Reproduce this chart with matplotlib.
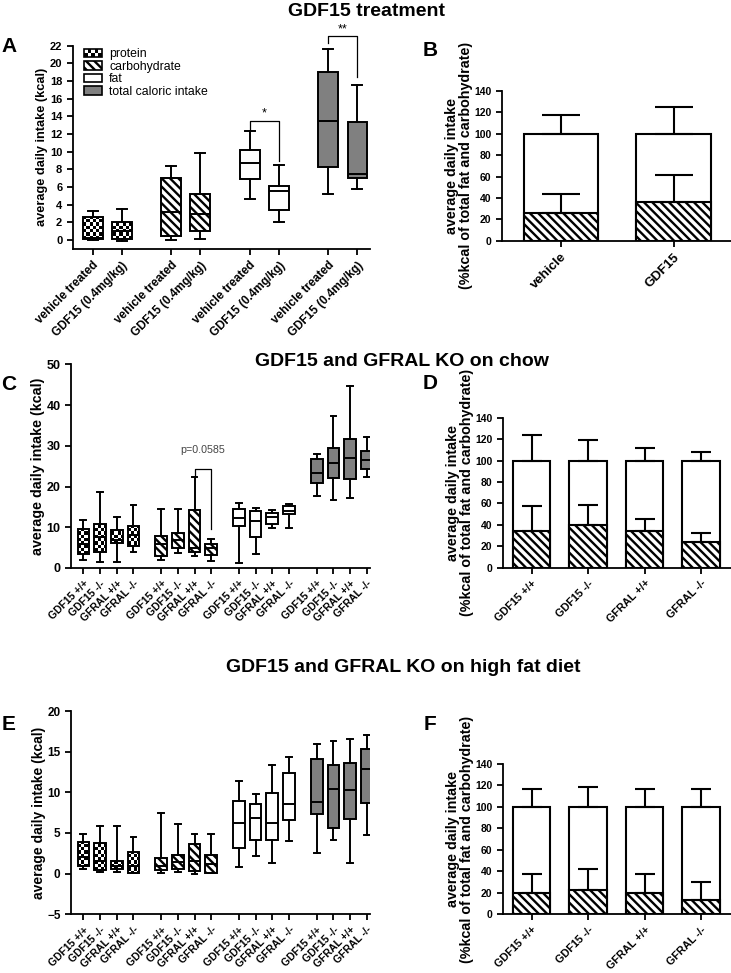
import numpy as np
import matplotlib
matplotlib.use('Agg')
import matplotlib.pyplot as plt
from matplotlib.patches import Patch, Rectangle
from matplotlib.legend_handler import HandlerBase

plt.rcParams['font.family'] = ['Liberation Sans', 'DejaVu Sans']
plt.rcParams['hatch.linewidth'] = 1.7
plt.rcParams['axes.linewidth'] = 1.3

###############################################################################
# Data

# A - GDF15 treatment, box summaries
a_labels = ['vehicle treated', 'GDF15 (0.4mg/kg)'] * 4
a_kind = ['protein'] * 2 + ['carb'] * 2 + ['fat'] * 2 + ['total'] * 2
a_whislo = [0.0, -0.1, 0.0, 0.08, 4.7, 2.0, 5.2, 5.8]
a_q1 = [0.1, 0.1, 0.45, 1.0, 6.9, 3.4, 8.25, 7.05]
a_med = [0.3, 1.0, 3.2, 2.95, 8.7, 5.6, 13.45, 7.5]
a_q3 = [2.6, 2.0, 7.05, 5.25, 10.25, 6.1, 19.0, 13.4]
a_whishi = [3.3, 3.5, 8.4, 9.85, 12.4, 8.55, 21.6, 17.5]

# B - % kcal of fat + carbohydrate
b_labels = ['vehicle', 'GDF15']
b_total = [100, 100]
b_total_sd = [17.5, 25.5]
b_carb = [25.8, 35.8]
b_carb_sd = [17.6, 25.4]

geno = ['GDF15 +/+', 'GDF15 -/-', 'GFRAL +/+', 'GFRAL -/-']
ce_labels = geno * 4
ce_kind = ['protein'] * 4 + ['carb'] * 4 + ['fat'] * 4 + ['total'] * 4

# C - chow
c_whislo = [1.9, 1.5, 1.5, 4.0, 1.9, 3.7, 2.95, 1.6, 1.2, 3.4, 9.9, 9.9, 17.7, 16.6, 17.1, 22.4]
c_q1 = [3.5, 3.85, 6.1, 5.4, 2.9, 4.8, 4.0, 3.3, 10.3, 7.5, 10.8, 13.2, 20.8, 22.0, 21.8, 24.4]
c_med = [6.0, 7.5, 6.8, 8.0, 6.0, 6.8, 5.0, 4.9, 12.3, 11.6, 12.5, 14.0, 23.3, 25.8, 27.0, 26.6]
c_q3 = [9.5, 10.8, 9.4, 10.4, 7.95, 8.7, 14.3, 5.9, 14.5, 14.0, 13.4, 15.3, 26.8, 29.4, 31.6, 28.8]
c_whishi = [11.7, 18.6, 12.5, 15.5, 14.5, 14.5, 22.3, 7.2, 16.0, 14.7, 14.2, 15.7, 28.0, 37.4, 44.6, 32.3]

# D - chow, % kcal
d_total = [100, 100, 100, 100]
d_total_sd = [23.4, 19.0, 11.9, 8.4]
d_carb = [34.5, 40.3, 33.8, 24.0]
d_carb_sd = [22.7, 18.5, 11.4, 8.3]

# E - high fat diet
e_whislo = [0.57, 0.16, 0.25, 0.12, 0.12, 0.2, 0.0, 0.04, 0.86, 2.17, 1.27, 4.06, 2.5, 4.1, 1.27, 4.75]
e_q1 = [0.9, 0.41, 0.57, 0.12, 0.45, 0.61, 0.29, 0.12, 3.11, 4.1, 4.18, 6.6, 7.34, 5.57, 6.68, 8.65]
e_med = [2.0, 1.5, 0.94, 1.0, 0.94, 1.39, 1.5, 1.15, 6.27, 6.9, 6.27, 8.57, 8.77, 10.45, 10.25, 12.87]
e_q3 = [3.93, 3.77, 1.56, 2.66, 1.93, 2.34, 3.6, 2.25, 8.98, 8.57, 9.92, 12.42, 14.14, 13.36, 13.57, 15.33]
e_whishi = [4.9, 5.8, 5.9, 4.47, 7.4, 6.07, 4.88, 4.88, 11.43, 9.75, 13.3, 14.4, 16.0, 16.3, 16.56, 17.05]

# F - high fat diet, % kcal
f_total = [100, 100, 100, 100]
f_total_sd = [17.0, 19.0, 17.0, 16.5]
f_carb = [20.0, 23.1, 20.0, 13.7]
f_carb_sd = [17.2, 19.1, 17.8, 16.6]

HATCH = '\\\\\\\\'
GREY = '#808080'


###############################################################################
# helpers
class CheckerHandler(HandlerBase):
    def create_artists(self, legend, orig_handle, xdescent, ydescent,
                       width, height, fontsize, trans):
        nx, ny = 5, 2
        w, h = width / nx, height / ny
        out = []
        for i in range(nx):
            for j in range(ny):
                fc = 'black' if (i + j) % 2 == 0 else 'white'
                out.append(Rectangle((-xdescent + i * w, -ydescent + j * h), w, h,
                                     facecolor=fc, edgecolor='none', transform=trans))
        out.append(Rectangle((-xdescent, -ydescent), width, height, facecolor='none',
                             edgecolor='black', lw=1.2, transform=trans))
        return out


def checker_fill(ax, patches, cell=3.3):
    fig = ax.figure
    pos = ax.get_position()
    nx = int(pos.width * fig.get_figwidth() * fig.dpi / cell)
    ny = int(pos.height * fig.get_figheight() * fig.dpi / cell)
    yy, xx = np.indices((ny, nx))
    board = ((xx + yy) % 2).astype(float)
    x0, x1 = ax.get_xlim()
    y0, y1 = ax.get_ylim()
    for p in patches:
        im = ax.imshow(board, cmap='gray', vmin=0, vmax=1, extent=(x0, x1, y0, y1),
                       aspect='auto', interpolation='nearest', origin='lower', zorder=1.5)
        im.set_clip_path(p)
    ax.set_xlim(x0, x1)
    ax.set_ylim(y0, y1)


def style(ax, yfs, xfs):
    for s in ['top', 'right']:
        ax.spines[s].set_visible(False)
    ax.tick_params(direction='out', length=4, width=1.3)
    ax.tick_params(axis='y', labelsize=yfs)
    for t in ax.get_yticklabels():
        t.set_fontweight('bold')
    for t in ax.get_xticklabels():
        t.set_fontweight('bold')
        t.set_fontsize(xfs)
        t.set_rotation(45)
        t.set_ha('right')
        t.set_va('top')
        t.set_rotation_mode('anchor')


def box_panel(ax, pos, width, kinds, labels, whislo, q1, med, q3, whishi, xlim, ylim):
    stats = [dict(whislo=a, q1=b, med=c, q3=d, whishi=e)
             for a, b, c, d, e in zip(whislo, q1, med, q3, whishi)]
    lp = dict(color='black', lw=1.4)
    bp = ax.bxp(stats, positions=pos, widths=width, patch_artist=True, showfliers=False,
                boxprops=dict(lw=1.4, edgecolor='black'), whiskerprops=lp,
                capprops=lp, medianprops=lp, manage_ticks=False)
    checkers = []
    for box, k in zip(bp['boxes'], kinds):
        if k == 'protein':
            box.set_facecolor('none')
            checkers.append(box)
        elif k == 'carb':
            box.set_facecolor('white')
            box.set_hatch(HATCH)
        elif k == 'fat':
            box.set_facecolor('white')
        else:
            box.set_facecolor(GREY)
    ax.set_xlim(*xlim)
    ax.set_ylim(*ylim)
    ax.set_xticks(pos)
    ax.set_xticklabels(labels)
    checker_fill(ax, checkers)
    return bp


def bar_panel(ax, labels, total, total_sd, carb, carb_sd, capsize, xlim, xfs):
    x = np.arange(len(labels))
    n = len(labels)
    ax.bar(x, total, width=0.66, facecolor='white', edgecolor='black', lw=1.5, zorder=2)
    ax.bar(x, carb, width=0.66, facecolor='white', edgecolor='black', lw=1.5,
           hatch=HATCH, zorder=2)
    ax.errorbar(x, total, yerr=[np.zeros(n), total_sd], fmt='none', ecolor='black',
                elinewidth=1.5, capsize=capsize, capthick=1.5, zorder=3)
    ax.errorbar(x, carb, yerr=[np.zeros(n), carb_sd], fmt='none', ecolor='black',
                elinewidth=1.5, capsize=capsize, capthick=1.5, zorder=3)
    ax.set_xlim(*xlim)
    ax.set_ylim(0, 140)
    ax.set_yticks(range(0, 141, 20))
    ax.set_xticks(x)
    ax.set_xticklabels(labels)
    ax.set_ylabel('average daily intake\n(%kcal of total fat and carbohydrate)',
                  fontsize=10.3, fontweight='bold', linespacing=1.0, labelpad=1)
    style(ax, 7.5, xfs)


###############################################################################
# figure
W, H = 731, 973
fig = plt.figure(figsize=(W / 100, H / 100), dpi=100)


def axes_px(left, right, top, bottom):
    return fig.add_axes([left / W, 1 - bottom / H, (right - left) / W, (bottom - top) / H])


# A
axA = axes_px(72.7, 370, 45.7, 249)
posA = [0, 1, 2.69, 3.69, 5.38, 6.38, 8.07, 9.07]
box_panel(axA, posA, 0.68, a_kind, a_labels, a_whislo, a_q1, a_med, a_q3, a_whishi,
          (-0.685, 9.5), (-1, 22))
axA.set_yticks(range(0, 23, 2))
axA.set_ylabel('average daily intake (kcal)', fontsize=9.2, fontweight='bold', labelpad=1.5)
style(axA, 8, 8.5)
# significance brackets
axA.plot([posA[4], posA[4], posA[5], posA[5]], [12.45, 13.5, 13.5, 8.95], color='black', lw=0.9)
axA.text((posA[4] + posA[5]) / 2, 13.7, '*', ha='center', va='bottom', fontsize=9)
axA.plot([posA[6], posA[6], posA[7], posA[7]], [22.3, 23.1, 23.1, 18.5], color='black', lw=0.9,
         clip_on=False)
axA.text((posA[6] + posA[7]) / 2, 23.2, '**', ha='center', va='bottom', fontsize=9)
proto = Rectangle((0, 0), 1, 1)
handles = [proto,
           Patch(facecolor='white', edgecolor='black', hatch=HATCH, lw=1.2),
           Patch(facecolor='white', edgecolor='black', lw=1.2),
           Patch(facecolor=GREY, edgecolor='black', lw=1.2)]
axA.legend(handles, ['protein', 'carbohydrate', 'fat', 'total caloric intake'],
           handler_map={proto: CheckerHandler()}, loc='upper left', bbox_to_anchor=(0.03, 1.0),
           frameon=False, fontsize=8.8, handlelength=1.45, handleheight=0.7,
           labelspacing=0.05, handletextpad=0.6, borderaxespad=0, borderpad=0.2)

# B
axB = axes_px(501.7, 731, 91, 240.7)
bar_panel(axB, b_labels, b_total, b_total_sd, b_carb, b_carb_sd, 13.7, (-0.525, 1.51), 9.5)

# C
posCE = [g * 4.66 + i for g in range(4) for i in range(4)]
axC = axes_px(71, 370, 364.5, 568)
box_panel(axC, posCE, 0.7, ce_kind, ce_labels, c_whislo, c_q1, c_med, c_q3, c_whishi,
          (-0.74, 17.17), (0, 50))
axC.set_yticks(range(0, 51, 10))
axC.set_ylabel('average daily intake (kcal)', fontsize=10.3, fontweight='bold', labelpad=1)
style(axC, 9, 7.5)
axC.plot([posCE[6], posCE[6], posCE[7], posCE[7]], [22.3, 24.4, 24.4, 9.5], color='black', lw=0.9)
axC.text((posCE[6] + posCE[7]) / 2, 28.9, 'p=0.0585', ha='center', va='center',
         fontsize=7.7, color='#444444')

# D
axD = axes_px(502.7, 731, 417.7, 567.7)
bar_panel(axD, geno, d_total, d_total_sd, d_carb, d_carb_sd, 7.2, (-0.51, 3.53), 7.8)

# E
axE = axes_px(71, 370, 711, 914.3)
box_panel(axE, posCE, 0.7, ce_kind, ce_labels, e_whislo, e_q1, e_med, e_q3, e_whishi,
          (-0.74, 17.17), (-5, 20))
axE.set_yticks(range(-5, 21, 5))
axE.set_ylabel('average daily intake (kcal)', fontsize=10.0, fontweight='bold', labelpad=1)
style(axE, 8.5, 7.5)

# F
axF = axes_px(502.7, 731, 764, 914.3)
bar_panel(axF, geno, f_total, f_total_sd, f_carb, f_carb_sd, 7.2, (-0.51, 3.53), 7.8)

# titles and panel letters
fig.text(367 / W, 1 - 11 / H, 'GDF15 treatment', ha='center', va='center',
         fontsize=14, fontweight='bold')
fig.text(402 / W, 1 - 362 / H, 'GDF15 and GFRAL KO on chow', ha='center', va='center',
         fontsize=14, fontweight='bold')
fig.text(403 / W, 1 - 668 / H, 'GDF15 and GFRAL KO on high fat diet', ha='center',
         va='center', fontsize=14, fontweight='bold')
for letter, x, y in [('A', 9, 47), ('B', 430, 51), ('C', 8.5, 385), ('D', 430, 384),
                     ('E', 8.5, 725), ('F', 430, 725)]:
    fig.text(x / W, 1 - y / H, letter, ha='center', va='center', fontsize=15, fontweight='bold')

fig.savefig('out.png', dpi=100)
